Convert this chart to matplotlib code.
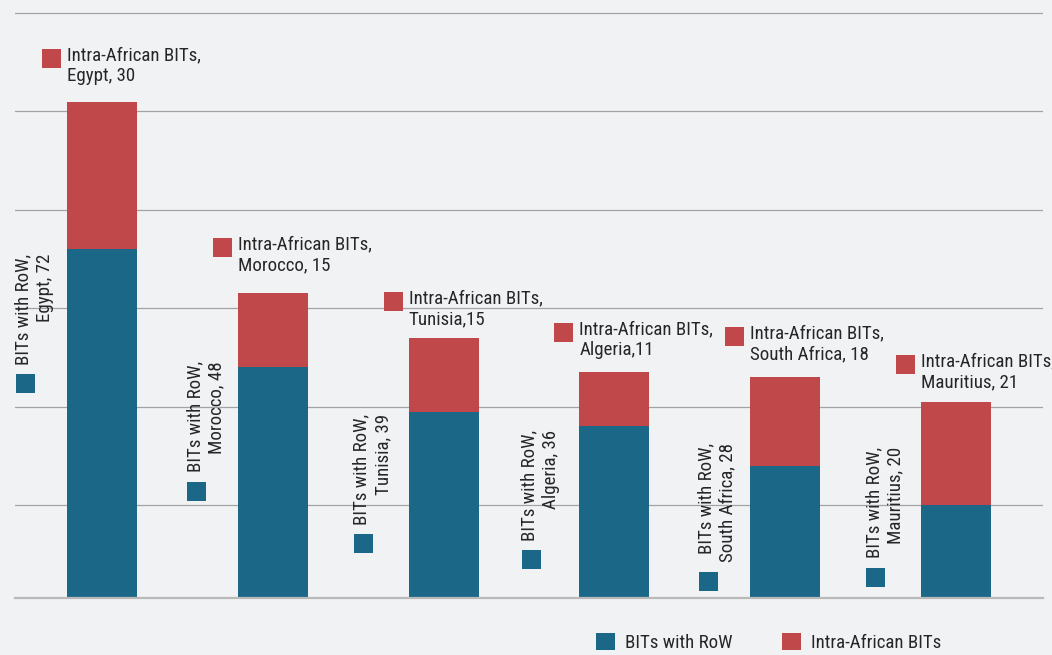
import matplotlib
matplotlib.use('Agg')
import matplotlib.pyplot as plt
from matplotlib import font_manager as fm
from matplotlib.transforms import ScaledTranslation
from matplotlib.patches import Patch

# ---------------- data ----------------
countries = ['Egypt', 'Morocco', 'Tunisia', 'Algeria', 'South Africa', 'Mauritius']
bits_row = [72, 48, 39, 36, 28, 20]
intra_african = [30, 15, 15, 11, 18, 21]
series_names = ['BITs with RoW', 'Intra-African BITs']
row_labels = ['BITs with RoW,\nEgypt, 72', 'BITs with RoW,\nMorocco, 48',
              'BITs with RoW,\nTunisia, 39', 'BITs with RoW,\nAlgeria, 36',
              'BITs with RoW,\nSouth Africa, 28', 'BITs with RoW,\nMauritius, 20']
intra_labels = ['Intra-African BITs,\nEgypt, 30', 'Intra-African BITs,\nMorocco, 15',
                'Intra-African BITs,\nTunisia,15', 'Intra-African BITs,\nAlgeria,11',
                'Intra-African BITs,\nSouth Africa, 18', 'Intra-African BITs,\nMauritius, 21']
grid_ticks = [20, 40, 60, 80, 100, 120]

# ---------------- layout (label placement) ----------------
intra_label_gap_px = [53, 56, 46, 50, 51, 47]        # marker top above bar top
row_label_y = [42.8, 21.0, 10.3, 7.0, 2.7, 3.5]      # marker bottom (data units)
row_label_dx_px = [-52, -51, -55, -58, -52, -55]     # marker left vs bar left

# ---------------- style ----------------
BLUE = '#1b6788'
RED = '#c0474a'
BG = '#f1f2f4'
TXT = '#262626'

names = {f.name for f in fm.fontManager.ttflist}
FONT = None
for cand in ['Liberation Sans Narrow', 'Roboto Condensed', 'Open Sans Condensed',
             'Noto Sans Condensed', 'DejaVu Sans Condensed']:
    if cand in names:
        FONT = cand
        break
FS = 13.6
if FONT is None:
    FONT = 'Liberation Sans'
    FS = 11.5
plt.rcParams['font.family'] = [FONT, 'DejaVu Sans']

fig = plt.figure(figsize=(10.52, 6.55), dpi=100, facecolor=BG)
ax = fig.add_axes([15 / 1052, 1 - 598 / 655, (1043 - 15) / 1052, 586 / 655])
ax.set_facecolor(BG)

x = list(range(len(countries)))
W = 0.409
ax.bar(x, bits_row, width=W, color=BLUE, zorder=3, label=series_names[0])
ax.bar(x, intra_african, width=W, bottom=bits_row, color=RED, zorder=3,
       label=series_names[1])

ax.set_xlim(-0.51, len(countries) - 0.49)
ax.set_ylim(1.1, 120.2)
ax.set_yticks(grid_ticks)
ax.set_yticklabels([])
ax.set_xticks([])
ax.tick_params(length=0)
ax.yaxis.grid(True, color='#a3a3a3', linewidth=0.9, zorder=0)
for s in ['top', 'left', 'right']:
    ax.spines[s].set_visible(False)
ax.spines['bottom'].set_color('#b9b9b9')
ax.spines['bottom'].set_linewidth(1.6)
ax.spines['bottom'].set_zorder(4)


def px_offset(dx, dy):
    return ax.transData + ScaledTranslation(dx / 100, dy / 100, fig.dpi_scale_trans)


MS = 19 * 0.72  # 19 px squares
for i in x:
    left = i - W / 2
    top = bits_row[i] + intra_african[i]
    g = intra_label_gap_px[i]
    # red label marker + text
    ax.plot([left], [top], marker='s', markersize=MS, mew=0, color=RED,
            transform=px_offset(-16, g - 9.5), clip_on=False, zorder=5)
    ax.annotate(intra_labels[i], xy=(left, top), xytext=(0, g + 2),
                textcoords='offset pixels', ha='left', va='top', fontsize=FS,
                color=TXT, linespacing=1.2, annotation_clip=False, zorder=5)
    # blue label marker + rotated text
    dx = row_label_dx_px[i]
    ax.plot([left], [row_label_y[i]], marker='s', markersize=MS, mew=0, color=BLUE,
            transform=px_offset(dx + 9.5, 9.5), clip_on=False, zorder=5)
    ax.annotate(row_labels[i], xy=(left, row_label_y[i]), xytext=(dx - 1, 28),
                textcoords='offset pixels', ha='left', va='bottom', rotation=90,
                multialignment='right', fontsize=FS, color=TXT, linespacing=1.25,
                annotation_clip=False, zorder=5)

handles = [Patch(facecolor=BLUE, edgecolor='none'), Patch(facecolor=RED, edgecolor='none')]
fig.legend(handles, series_names, loc='upper left', bbox_to_anchor=(596 / 1052, 1 - 633 / 655),
           ncol=2, frameon=False, fontsize=FS, handlelength=1.0, handleheight=1.0,
           handletextpad=0.55, columnspacing=2.6, borderpad=0, borderaxespad=0,
           labelcolor=TXT)

fig.savefig('out.png', dpi=100, facecolor=BG)
